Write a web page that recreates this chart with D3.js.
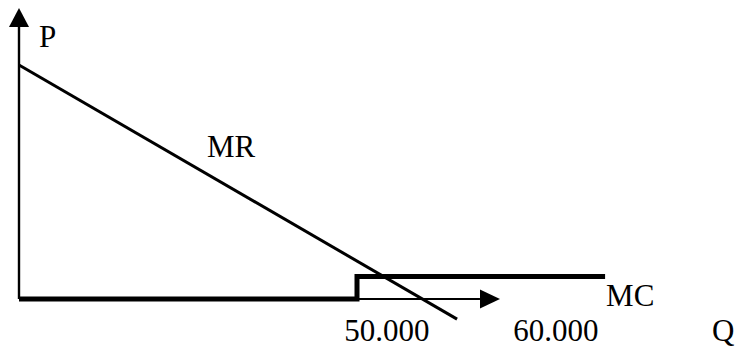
<!DOCTYPE html>
<html><head><meta charset="utf-8">
<script src="https://cdn.jsdelivr.net/npm/d3@7"></script>
<style>html,body{margin:0;padding:0;background:#fff;}svg{display:block;}</style>
</head><body>
<svg id="c" width="735" height="346"></svg>
<script>
// ---- data ----
const mrQ = [0, 64800];
const mrP = [80.4, -6.9];
const mcQ = [0, 50000, 50000, 86700];
const mcP = [0, 0, 7.7, 7.7];
const tickLabels = ["50.000", "60.000"];
const tickQ = [48100, 73100];
const qArrowEnd = 71150;
const pArrowEnd = 100;
const mrLabelQ = 27800;

const svg = d3.select("#c");
const x = d3.scaleLinear().domain([0, 50000]).range([19, 357]);
const y = d3.scaleLinear().domain([0, 100]).range([299, 8]);
const font = "'Liberation Serif','Times New Roman',serif";
const fs = 31;

// axes
svg.append("line").attr("x1", x(0)).attr("x2", x(0)).attr("y1", y(0)).attr("y2", y(pArrowEnd) + 19)
  .attr("stroke", "#000").attr("stroke-width", 2.4);
svg.append("path").attr("d", d3.line()([[x(0) - 10, y(pArrowEnd) + 19], [x(0) + 10, y(pArrowEnd) + 19], [x(0), y(pArrowEnd)]]) + "Z")
  .attr("fill", "#000");
svg.append("line").attr("x1", x(0)).attr("x2", x(qArrowEnd) - 20).attr("y1", y(0)).attr("y2", y(0))
  .attr("stroke", "#000").attr("stroke-width", 2.2);
svg.append("path").attr("d", d3.line()([[x(qArrowEnd) - 20, y(0) - 9.5], [x(qArrowEnd) - 20, y(0) + 9.5], [x(qArrowEnd), y(0)]]) + "Z")
  .attr("fill", "#000");

// MC
const line = d3.line().x(d => x(d[0])).y(d => y(d[1]));
svg.append("path").attr("d", line(mcQ.map((q, i) => [q, mcP[i]])))
  .attr("fill", "none").attr("stroke", "#000").attr("stroke-width", 5).attr("stroke-linejoin", "miter");

// MR
svg.append("path").attr("d", line(mrQ.map((q, i) => [q, mrP[i]])))
  .attr("fill", "none").attr("stroke", "#000").attr("stroke-width", 3);

// labels
const txt = (t, px, py) => svg.append("text").attr("x", px).attr("y", py).text(t)
  .attr("font-family", font).attr("font-size", fs).attr("fill", "#000");
txt("P", x(0) + 20, y(pArrowEnd) + 39);
txt("MR", x(mrLabelQ), y(mrP[0]) + 92);
txt("MC", x(mcQ[3]) + 1, y(mcP[3]) + 29);
tickLabels.forEach((t, i) => txt(t, x(tickQ[i]), y(0) + 42));
txt("Q", 712, y(0) + 42);
</script>
</body></html>
